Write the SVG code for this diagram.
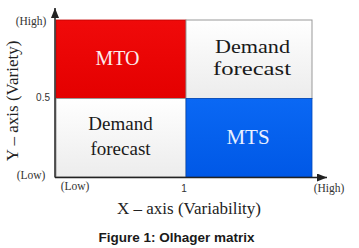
<svg xmlns="http://www.w3.org/2000/svg" width="359" height="248" viewBox="0 0 359 248">
<defs>
<linearGradient id="gw" x1="0" y1="0" x2="0" y2="1">
<stop offset="0" stop-color="#ffffff"/>
<stop offset="1" stop-color="#ececec"/>
</linearGradient>
<linearGradient id="gr" x1="0" y1="0" x2="0" y2="1">
<stop offset="0" stop-color="#f00a0a"/>
<stop offset="1" stop-color="#e40000"/>
</linearGradient>
<linearGradient id="gb" x1="0" y1="0" x2="0" y2="1">
<stop offset="0" stop-color="#0a68f4"/>
<stop offset="1" stop-color="#0058e6"/>
</linearGradient>
<marker id="ah" viewBox="0 0 10 8" refX="10" refY="4" markerWidth="10" markerHeight="8" markerUnits="userSpaceOnUse" orient="auto">
<path d="M0,0 L10,4 L0,8 Z" fill="#222"/>
</marker>
</defs>
<style>
.q { font-family: "Liberation Serif", "Times New Roman", serif; text-anchor: middle; }
.s { font-family: "Liberation Serif", "Times New Roman", serif; font-size: 11.5px; fill: #333; text-anchor: middle; }
.n { font-family: "Liberation Sans", Arial, sans-serif; font-size: 10px; fill: #333; }
.ax { font-family: "Liberation Serif", "Times New Roman", serif; font-size: 17px; fill: #222; text-anchor: middle; }
.box { stroke: #999; stroke-width: 1; }
</style>
<rect width="359" height="248" fill="#ffffff"/>
<g id="mto">
<rect x="56" y="20" width="130" height="78.5" fill="url(#gr)" stroke="#c00000" stroke-width="0.8"/>
<text class="q" x="117.5" y="65" font-size="20" fill="#fbecec">MTO</text>
</g>
<g id="demand-forecast-top">
<rect class="box" x="186" y="20" width="126" height="78.5" fill="url(#gw)"/>
<text class="q" x="252.5" y="53" font-size="19" fill="#1a1a1a" textLength="75" lengthAdjust="spacingAndGlyphs">Demand</text>
<text class="q" x="252" y="75" font-size="19" fill="#1a1a1a" textLength="78" lengthAdjust="spacingAndGlyphs">forecast</text>
</g>
<g id="demand-forecast-bottom">
<rect class="box" x="56" y="98.5" width="130" height="78.5" fill="url(#gw)"/>
<text class="q" x="120.5" y="130" font-size="19" fill="#1a1a1a">Demand</text>
<text class="q" x="120.5" y="155" font-size="19" fill="#1a1a1a">forecast</text>
</g>
<g id="mts">
<rect x="186" y="98.5" width="126" height="78.5" fill="url(#gb)" stroke="#0048b8" stroke-width="0.8"/>
<text class="q" x="248" y="144" font-size="21" fill="#e8f0ff">MTS</text>
</g>
<g id="connectors">
<line x1="55" y1="177.5" x2="55" y2="8" stroke="#222" stroke-width="1.5" marker-end="url(#ah)"/>
<line x1="55" y1="177.5" x2="327" y2="177.5" stroke="#222" stroke-width="1.5" marker-end="url(#ah)"/>
</g>
<g id="labels">
<text class="s" x="31" y="25">(High)</text>
<text class="n" x="50" y="101" text-anchor="end">0.5</text>
<text class="s" x="31" y="179">(Low)</text>
<text class="s" x="75" y="190">(Low)</text>
<text class="n" x="184" y="192" text-anchor="middle">1</text>
<text class="s" x="329" y="192">(High)</text>
<text class="ax" x="189" y="214">X – axis (Variability)</text>
<text class="ax" x="18" y="101" transform="rotate(-90 18 101)">Y – axis (Variety)</text>
<text x="176.5" y="242" font-family="Liberation Sans, Arial, sans-serif" font-weight="bold" font-size="13.5" fill="#1a1a1a" text-anchor="middle">Figure 1: Olhager matrix</text>
</g>
</svg>
